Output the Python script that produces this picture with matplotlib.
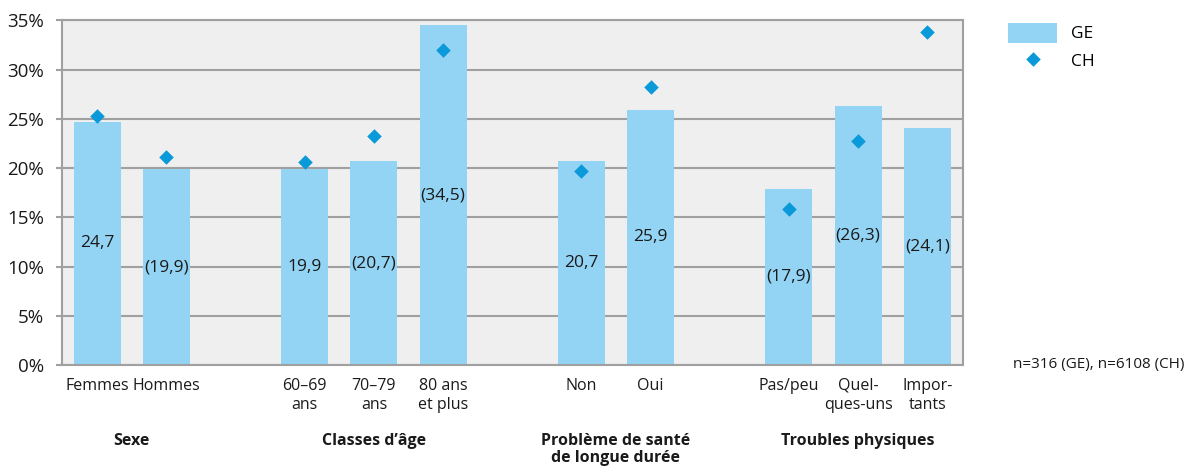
import matplotlib.pyplot as plt
import numpy as np

plt.rcParams['font.family'] = ['Open Sans', 'DejaVu Sans']

labels = ['Femmes', 'Hommes', '60–69\nans', '70–79\nans', '80 ans\net plus',
          'Non', 'Oui', 'Pas/peu', 'Quel-\nques-uns', 'Impor-\ntants']
slots = [0, 1, 3, 4, 5, 7, 8, 10, 11, 12]
ge = [24.7, 19.9, 19.9, 20.7, 34.5, 20.7, 25.9, 17.9, 26.3, 24.1]
ge_txt = ['24,7', '(19,9)', '19,9', '(20,7)', '(34,5)', '20,7', '25,9', '(17,9)', '(26,3)', '(24,1)']
ch = [25.3, 21.1, 20.6, 23.3, 32.0, 19.7, 28.2, 15.8, 22.7, 33.8]
groups = ['Sexe', 'Classes d’âge', 'Problème de santé\nde longue durée', 'Troubles physiques']
group_pos = [0.5, 4, 7.5, 11]

bar_col = '#93d3f4'
dia_col = '#0a9ad9'
grid_col = '#a0a0a0'

fig = plt.figure(figsize=(11.89, 4.69), dpi=100)
ax = fig.add_axes([0.0521, 0.2217, 0.758, 0.735])
ax.set_facecolor('#efefef')

x = np.array(slots)
bars = ax.bar(x, ge, width=0.68, color=bar_col, zorder=2, label='GE')
pts = ax.scatter(x, ch, marker='D', s=55, color=dia_col, zorder=3, label='CH', linewidths=0)
for xi, v, t in zip(x, ge, ge_txt):
    ax.text(xi, v / 2, t, ha='center', va='center', fontsize=12.5, color='#1a1a1a', zorder=4)

ax.set_xlim(-0.51, 12.52)
ax.set_ylim(0, 35)
ax.set_yticks(range(0, 36, 5))
ax.set_yticklabels([f'{v}%' for v in range(0, 36, 5)], fontsize=13.5)
ax.yaxis.grid(True, color=grid_col, lw=1.5, zorder=1)
ax.set_axisbelow(True)
ax.tick_params(axis='y', length=4, width=1.5, color=grid_col, pad=9, labelcolor='#1a1a1a')
ax.set_xticks(x)
ax.set_xticklabels(labels, fontsize=11.5, color='#1a1a1a', linespacing=1.3)
ax.tick_params(axis='x', length=0, pad=9)
for s in ax.spines.values():
    s.set_color(grid_col)
    s.set_linewidth(1.5)

for gp, g in zip(group_pos, groups):
    ax.text(gp, -6.9, g, ha='center', va='top', fontsize=11.5, fontweight='bold',
            color='#1a1a1a', linespacing=1.05, transform=ax.transData, clip_on=False)

ax.legend([bars, pts], ['GE', 'CH'], loc='upper left', bbox_to_anchor=(0.835, 0.985),
          bbox_transform=fig.transFigure, frameon=False, fontsize=12.5, handlelength=2.8,
          handleheight=1.4, labelspacing=0.45, handletextpad=0.8)

fig.text(0.852, 0.222, 'n=316 (GE), n=6108 (CH)', fontsize=11, color='#1a1a1a', va='center')

fig.savefig('out.png', dpi=100)
